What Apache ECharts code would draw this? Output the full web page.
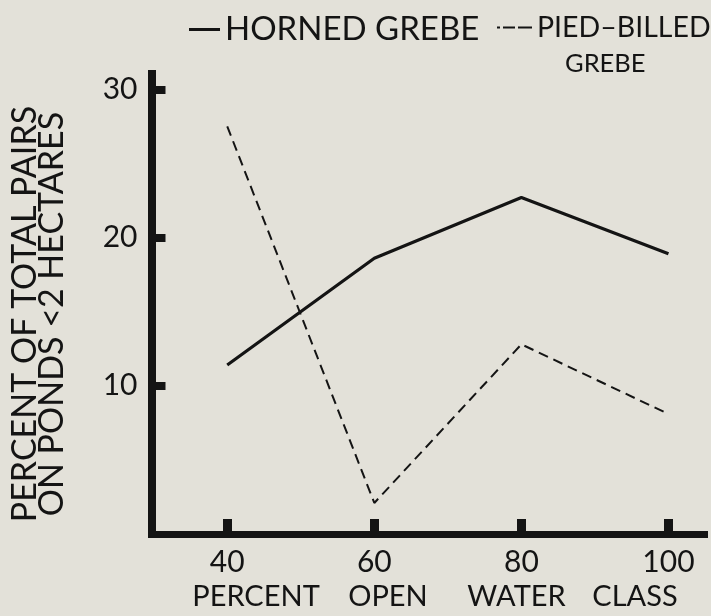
<!DOCTYPE html>
<html><head><meta charset="utf-8">
<script src="https://cdn.jsdelivr.net/npm/echarts@6/dist/echarts.min.js"></script>
<style>html,body{margin:0;padding:0;background:#e3e1d9;} #c{width:711px;height:616px;}</style>
</head><body><div id="c"></div>
<script>
const openWaterClass = [40, 60, 80, 100];
const hornedGrebe = [11.4, 18.6, 22.7, 18.9];
const piedBilledGrebe = [27.5, 2.1, 12.8, 8.1];
const xTicks = [40, 60, 80, 100];
const yTicks = [10, 20, 30];
const seriesNames = ['HORNED GREBE', 'PIED–BILLED GREBE'];

const FONT = 'Lato';
const INK = '#141414';

const chart = echarts.init(document.getElementById('c'), null, {renderer: 'canvas'});
chart.setOption({
  backgroundColor: '#e3e1d9',
  animation: false,
  grid: {left: 151, right: 6.5, top: 74, bottom: 77.5},
  legend: [
    {
      data: [seriesNames[0]],
      left: 189, top: 13, padding: 0,
      icon: 'rect',
      itemWidth: 31, itemHeight: 3,
      itemStyle: {color: INK},
      textStyle: {fontFamily: FONT, fontSize: 33, color: INK}
    },
    {
      data: [seriesNames[1]],
      left: 497, top: 13, padding: 0,
      icon: 'path://M0 0h3v2h-3zM6 0h12v2h-12zM21 0h14v2h-14z',
      itemWidth: 35, itemHeight: 2,
      itemStyle: {color: INK},
      formatter: function () { return '{a|PIED–BILLED}\n{b|GREBE}'; },
      textStyle: {
        fontFamily: FONT, color: INK, padding: [36, 0, 0, 0],
        rich: {
          a: {fontFamily: FONT, fontSize: 28.5, lineHeight: 36, color: INK},
          b: {fontFamily: FONT, fontSize: 25.5, lineHeight: 36, color: INK, padding: [0, 0, 0, 28]}
        }
      }
    }
  ],
  xAxis: {
    type: 'value', min: 29.7, max: 104.9,
    name: '{p|PERCENT}{o|OPEN}{w|WATER}{c|CLASS}',
    nameLocation: 'middle', nameGap: 47,
    nameTextStyle: {
      fontFamily: FONT, fontSize: 29, color: INK, padding: [0, 0, 0, 21],
      rich: {
        p: {fontFamily: FONT, fontSize: 29, color: INK, width: 136, align: 'center'},
        o: {fontFamily: FONT, fontSize: 29, color: INK, width: 128, align: 'center'},
        w: {fontFamily: FONT, fontSize: 29, color: INK, width: 129, align: 'center'},
        c: {fontFamily: FONT, fontSize: 29, color: INK, width: 108, align: 'center'}
      }
    },
    axisLine: {lineStyle: {color: INK, width: 7, cap: 'square'}},
    axisTick: {customValues: xTicks, inside: true, length: 15, lineStyle: {color: INK, width: 9}},
    axisLabel: {customValues: xTicks, margin: 13, fontFamily: FONT, fontSize: 30, color: INK},
    splitLine: {show: false}
  },
  yAxis: {
    type: 'value', min: 0, max: 31.03,
    name: 'PERCENT OF TOTAL PAIRS\nON PONDS <2 HECTARES',
    nameLocation: 'middle', nameGap: 86, nameRotate: 90,
    nameTextStyle: {fontFamily: FONT, fontSize: 34, lineHeight: 27, color: INK, padding: [0, 20, 0, 0]},
    axisLine: {show: true, lineStyle: {color: INK, width: 8, cap: 'square'}},
    axisTick: {customValues: yTicks, inside: true, length: 14, lineStyle: {color: INK, width: 8}},
    axisLabel: {customValues: yTicks, margin: 14, fontFamily: FONT, fontSize: 30, color: INK},
    splitLine: {show: false}
  },
  series: [
    {
      name: seriesNames[0], type: 'line', symbol: 'none',
      data: openWaterClass.map((x, i) => [x, hornedGrebe[i]]),
      lineStyle: {color: INK, width: 3.2, type: 'solid'},
      itemStyle: {color: INK}
    },
    {
      name: seriesNames[1], type: 'line', symbol: 'none',
      data: openWaterClass.map((x, i) => [x, piedBilledGrebe[i]]),
      lineStyle: {color: INK, width: 2, type: [10, 6]},
      itemStyle: {color: INK}
    }
  ]
});
</script></body></html>
